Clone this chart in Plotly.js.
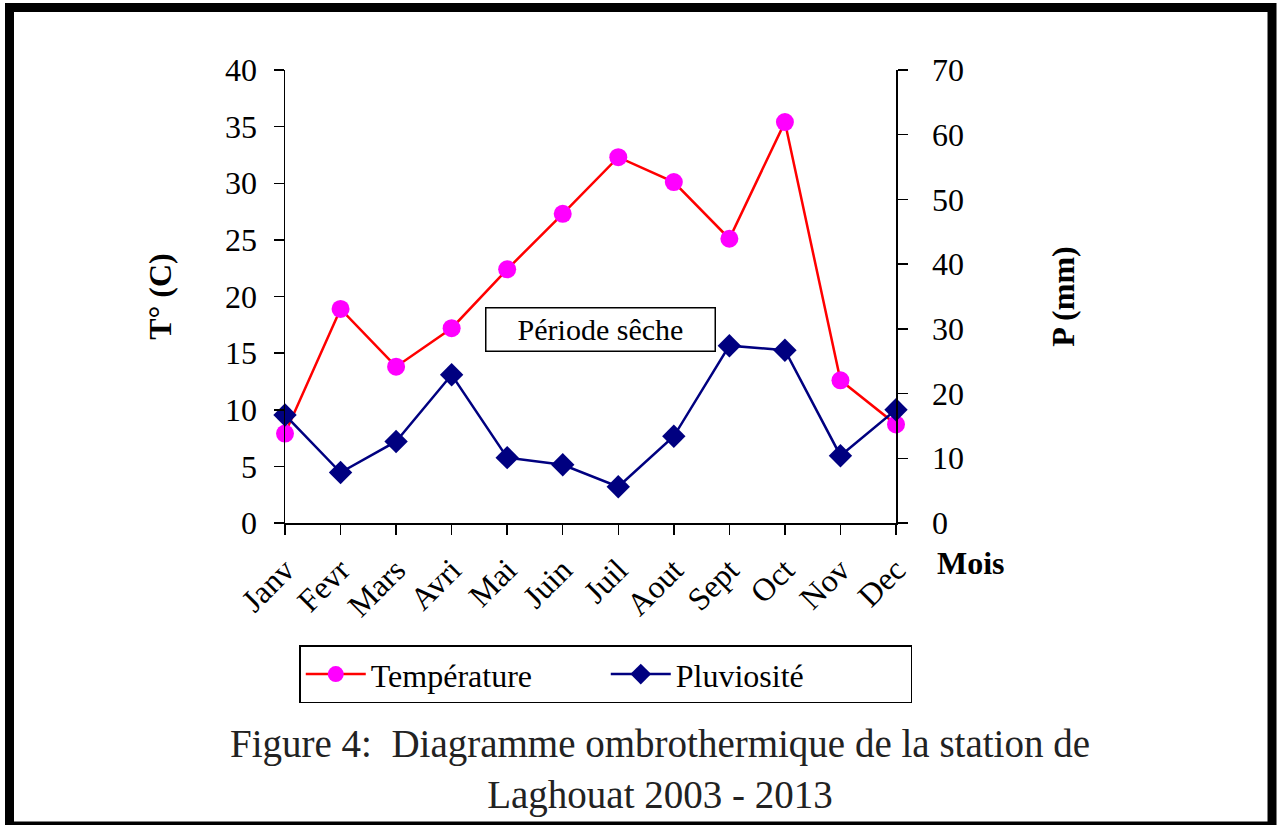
<!DOCTYPE html>
<html>
<head>
<meta charset="utf-8">
<script src="https://cdn.plot.ly/plotly-3.0.1.min.js"></script>
<style>
  html, body { margin: 0; padding: 0; background: #fff; }
  #chart { width: 1279px; height: 825px; }
</style>
</head>
<body>
<div id="chart"></div>
<script>
const months = ["Janv", "Fevr", "Mars", "Avri", "Mai", "Juin", "Juil", "Aout", "Sept", "Oct", "Nov", "Dec"];
const temperature = [7.9, 18.9, 13.8, 17.2, 22.4, 27.3, 32.3, 30.1, 25.1, 35.4, 12.6, 8.7];
const pluviosite = [16.7, 7.8, 12.6, 22.9, 10.1, 9.0, 5.6, 13.4, 27.4, 26.7, 10.4, 17.5];

const serif = "Liberation Serif, Times New Roman, serif";
const F = 32;

const traces = [
  {
    x: months, y: temperature, name: "Température", type: "scatter", mode: "lines+markers",
    line: { color: "#ff0000", width: 2.5 },
    marker: { color: "#ff00ff", size: 18, symbol: "circle" },
    cliponaxis: false, xaxis: "x", yaxis: "y"
  },
  {
    x: months, y: pluviosite, name: "Pluviosité", type: "scatter", mode: "lines+markers",
    line: { color: "#000080", width: 2.5 },
    marker: { color: "#000080", size: 18, symbol: "diamond" },
    cliponaxis: false, xaxis: "x", yaxis: "y2"
  }
];

const axisCommon = {
  showgrid: false, zeroline: false, showline: true, linecolor: "#000", linewidth: 1.5,
  tickcolor: "#000", tickwidth: 1.5, tickfont: { family: serif, size: F, color: "#000" }
};

const layout = {
  width: 1279, height: 825,
  margin: { l: 285, r: 383, t: 70, b: 302 },
  paper_bgcolor: "#fff", plot_bgcolor: "#fff",
  showlegend: true,
  legend: {
    orientation: "h", x: 0.525, xanchor: "center", y: -0.27, yanchor: "top",
    bordercolor: "#000", borderwidth: 1.5, bgcolor: "#fff",
    font: { family: serif, size: F, color: "#000" },
    itemwidth: 60, entrywidth: 230
  },
  xaxis: Object.assign({}, axisCommon, {
    type: "category", range: [0, 11], ticks: "outside", ticklen: 10,
    tickangle: -45, ticklabelstandoff: 4
  }),
  xaxis2: Object.assign({}, axisCommon, {
    type: "linear", range: [0, 11], dtick: 1, tick0: 0, overlaying: "x", anchor: "y",
    ticks: "inside", ticklen: 12, showticklabels: false, showline: false
  }),
  yaxis: Object.assign({}, axisCommon, {
    range: [0, 40], dtick: 5, ticks: "outside", ticklen: 10, ticklabelstandoff: 10,
    title: { text: "<b>T° (C)</b>", font: { family: serif, size: F, color: "#000" }, standoff: 44 }
  }),
  yaxis3: Object.assign({}, axisCommon, {
    range: [0, 40], dtick: 5, overlaying: "y", side: "left", anchor: "x",
    ticks: "inside", ticklen: 10, showticklabels: false, showline: false
  }),
  yaxis2: Object.assign({}, axisCommon, {
    range: [0, 70], dtick: 10, overlaying: "y", side: "right", anchor: "x",
    ticks: "outside", ticklen: 10, ticklabelstandoff: 18,
    title: { text: "<b>P (mm)</b>", font: { family: serif, size: F, color: "#000" }, standoff: 88 }
  }),
  yaxis4: Object.assign({}, axisCommon, {
    range: [0, 70], dtick: 10, overlaying: "y", side: "right", anchor: "x",
    ticks: "inside", ticklen: 10, showticklabels: false, showline: false
  }),
  annotations: [
    {
      xref: "paper", yref: "paper", x: 0.517, y: 0.428, xanchor: "center", yanchor: "middle",
      text: "Période sêche", showarrow: false, bordercolor: "#000", borderwidth: 1.5,
      bgcolor: "#fff", width: 226, height: 40, align: "center",
      font: { family: serif, size: 30, color: "#000" }
    },
    {
      xref: "paper", yref: "paper", x: 1.064, y: -0.088, xanchor: "left", yanchor: "middle",
      text: "<b>Mois</b>", showarrow: false,
      font: { family: serif, size: F, color: "#000" }
    },
    {
      xref: "paper", yref: "paper", x: 0.614, y: -0.435, xanchor: "center", yanchor: "top",
      text: "Figure 4:&nbsp; Diagramme ombrothermique de la station de<br>Laghouat 2003 - 2013",
      showarrow: false, align: "center",
      font: { family: serif, size: 39, color: "#222" }
    }
  ],
  shapes: [
    {
      type: "rect", xref: "paper", yref: "paper",
      x0: -0.4509, x1: 1.6154, y0: -0.669, y1: 1.138,
      line: { color: "#000", width: 9 }, fillcolor: "rgba(0,0,0,0)"
    }
  ]
};

Plotly.newPlot("chart", traces, layout, { displayModeBar: false, staticPlot: true });
</script>
</body>
</html>
